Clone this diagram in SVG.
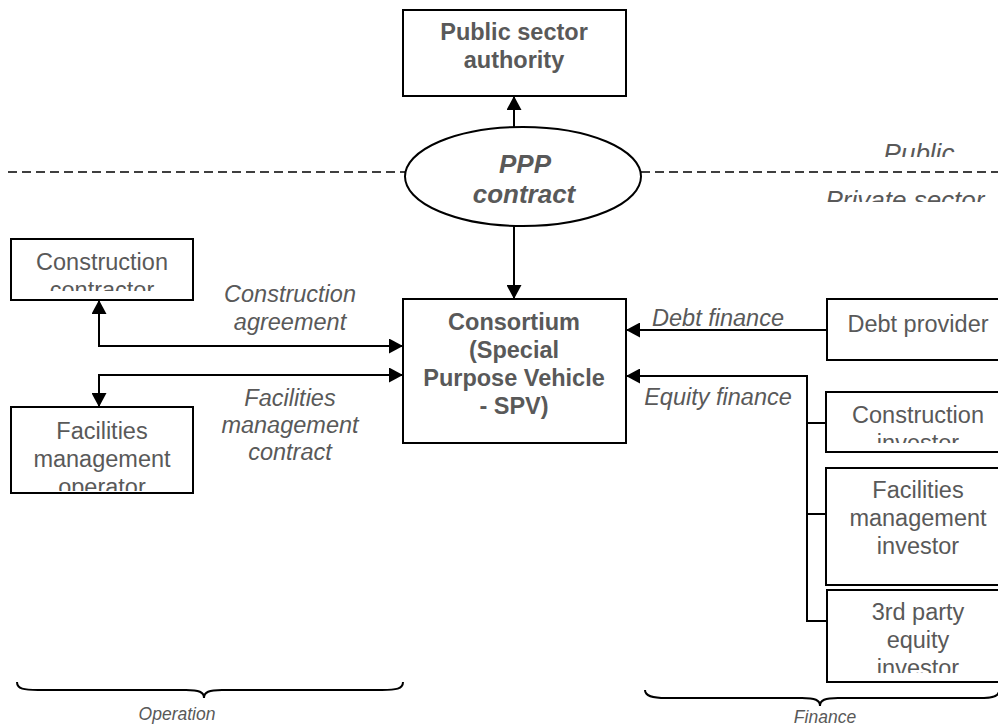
<svg xmlns="http://www.w3.org/2000/svg" width="998" height="727" viewBox="0 0 998 727">
<style>
  .box{fill:#fff;stroke:#000;stroke-width:2}
  .t{font-family:"Liberation Sans",Arial,sans-serif;font-size:23.5px;fill:#595959;text-anchor:middle}
  .b{font-weight:bold}
  .i{font-style:italic}
  .ln{fill:none;stroke:#000;stroke-width:2}
  .sm{font-size:17.5px}
</style>
<defs>
  <marker id="ah" markerUnits="userSpaceOnUse" markerWidth="15" markerHeight="15" refX="14" refY="7.5" orient="auto">
    <path d="M0,0 L14,7.5 L0,15 z" fill="#000"/>
  </marker>
  <clipPath id="c-cc"><rect x="0" y="230" width="200" height="61"/></clipPath>
  <clipPath id="c-ci"><rect x="820" y="390" width="178" height="53"/></clipPath>
  <clipPath id="c-op"><rect x="0" y="400" width="200" height="91"/></clipPath>
  <clipPath id="c-3p"><rect x="820" y="590" width="178" height="83"/></clipPath>
  <clipPath id="c-pub"><rect x="860" y="130" width="138" height="27"/></clipPath>
  <clipPath id="c-prv"><rect x="800" y="180" width="198" height="22"/></clipPath>
</defs>

<g id="sector-divider">
  <line x1="8" y1="172" x2="405" y2="172" stroke="#000" stroke-width="1.5" stroke-dasharray="9 5"/>
  <line x1="641" y1="172" x2="998" y2="172" stroke="#000" stroke-width="1.5" stroke-dasharray="9 5"/>
  <text class="t i" style="font-size:26px" x="919" y="161.5" clip-path="url(#c-pub)">Public</text>
  <text class="t i" style="font-size:26px" x="905" y="208.5" clip-path="url(#c-prv)">Private sector</text>
</g>

<g id="connectors">
  <line class="ln" x1="514" y1="127" x2="514" y2="96" marker-end="url(#ah)"/>
  <line class="ln" x1="514" y1="226" x2="514" y2="299" marker-end="url(#ah)"/>
  <polyline class="ln" points="403,346 99,346 99,300" marker-end="url(#ah)"/>
  <line class="ln" x1="99" y1="346" x2="403" y2="346" marker-end="url(#ah)"/>
  <polyline class="ln" points="403,375 99,375 99,407" marker-end="url(#ah)"/>
  <line class="ln" x1="99" y1="375" x2="403" y2="375" marker-end="url(#ah)"/>
  <line class="ln" x1="827" y1="330" x2="626" y2="330" marker-end="url(#ah)"/>
  <polyline class="ln" points="826,621 807,621 807,376 626,376" marker-end="url(#ah)"/>
  <line class="ln" x1="807" y1="423" x2="826" y2="423"/>
  <line class="ln" x1="807" y1="514" x2="826" y2="514"/>
  <text class="t i" x="290" y="302">Construction</text>
  <text class="t i" x="290" y="330">agreement</text>
  <text class="t i" x="290" y="406">Facilities</text>
  <text class="t i" x="290" y="433">management</text>
  <text class="t i" x="290" y="460">contract</text>
  <text class="t i" x="718" y="326">Debt finance</text>
  <text class="t i" x="718" y="405">Equity finance</text>
</g>

<g id="public-sector-authority">
  <rect class="box" x="403" y="10" width="223" height="86"/>
  <text class="t b" x="514" y="40">Public sector</text>
  <text class="t b" x="514" y="68">authority</text>
</g>

<g id="ppp-contract">
  <ellipse cx="523" cy="176.5" rx="118" ry="49.5" fill="#fff" stroke="#000" stroke-width="2"/>
  <text class="t b i" style="font-size:26px" x="525" y="173">PPP</text>
  <text class="t b i" style="font-size:26px" x="524" y="203">contract</text>
</g>

<g id="consortium">
  <rect class="box" x="403" y="299" width="223" height="144"/>
  <text class="t b" x="514" y="330">Consortium</text>
  <text class="t b" x="514" y="358">(Special</text>
  <text class="t b" x="514" y="386">Purpose Vehicle</text>
  <text class="t b" x="514" y="414">- SPV)</text>
</g>

<g id="construction-contractor">
  <rect class="box" x="11" y="239" width="182" height="61"/>
  <g clip-path="url(#c-cc)">
    <text class="t" x="102" y="270">Construction</text>
    <text class="t" x="102" y="298">contractor</text>
  </g>
</g>

<g id="facilities-operator">
  <rect class="box" x="11" y="407" width="182" height="86"/>
  <g clip-path="url(#c-op)">
    <text class="t" x="102" y="439">Facilities</text>
    <text class="t" x="102" y="467">management</text>
    <text class="t" x="102" y="495">operator</text>
  </g>
</g>

<g id="debt-provider">
  <rect class="box" x="827" y="299" width="183" height="61"/>
  <text class="t" x="918" y="332">Debt provider</text>
</g>

<g id="construction-investor">
  <rect class="box" x="826" y="392" width="184" height="60"/>
  <g clip-path="url(#c-ci)">
    <text class="t" x="918" y="423">Construction</text>
    <text class="t" x="918" y="451">investor</text>
  </g>
</g>

<g id="facilities-investor">
  <rect class="box" x="826" y="468" width="184" height="117"/>
  <text class="t" x="918" y="498">Facilities</text>
  <text class="t" x="918" y="526">management</text>
  <text class="t" x="918" y="554">investor</text>
</g>

<g id="third-party-investor">
  <rect class="box" x="827" y="590" width="183" height="92"/>
  <g clip-path="url(#c-3p)">
    <text class="t" x="918" y="620">3rd party</text>
    <text class="t" x="918" y="648">equity</text>
    <text class="t" x="918" y="676">investor</text>
  </g>
</g>

<g id="operation-brace">
  <path class="ln" d="M17,682 C17,689 24,690 38,690 L186,690 C199,690 204,692 204,698 C204,692 209,690 222,690 L382,690 C396,690 403,689 403,682"/>
  <text class="t i sm" x="177" y="720">Operation</text>
</g>

<g id="finance-brace">
  <path class="ln" d="M645,690 C645,696 652,698 666,698 L802,698 C815,698 820,700 820,706 C820,700 825,698 838,698 L984,698 C994,698 998,696 999,692"/>
  <text class="t i sm" x="825" y="723">Finance</text>
</g>
</svg>
